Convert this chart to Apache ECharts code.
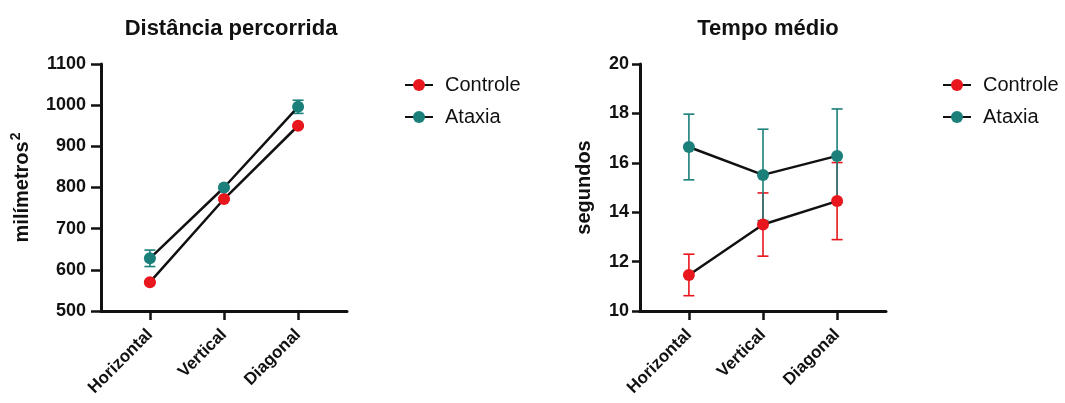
<!DOCTYPE html>
<html>
<head>
<meta charset="utf-8">
<script src="https://cdn.jsdelivr.net/npm/echarts@6/dist/echarts.min.js"></script>
<style>
html,body{margin:0;padding:0;background:#fff;}
#chart{width:1065px;height:403px;}
</style>
</head>
<body>
<div id="chart"></div>
<script>
const categories = ['Horizontal', 'Vertical', 'Diagonal'];
const seriesNames = ['Controle', 'Ataxia'];

const distControle = [570, 772, 950];
const distControleErr = [3, 3, 3];
const distAtaxia = [628, 800, 996];
const distAtaxiaErr = [20, 3, 16];

const tempoControle = [11.46, 13.5, 14.45];
const tempoControleErr = [0.84, 1.28, 1.56];
const tempoAtaxia = [16.64, 15.51, 16.28];
const tempoAtaxiaErr = [1.33, 1.85, 1.9];

const RED = '#e8161d';
const TEAL = '#1b7f7a';
const FONT = '"Liberation Sans", Arial, sans-serif';

const toPts = (vals, errs) => vals.map((v, i) => [i, v, errs[i]]);

function errRender(color) {
  return function (params, api) {
    const x = api.value(0), y = api.value(1), e = api.value(2);
    const top = api.coord([x, y + e]);
    const bot = api.coord([x, y - e]);
    const cap = 5.5;
    const style = { stroke: color, lineWidth: 1.6 };
    return {
      type: 'group',
      children: [
        { type: 'line', shape: { x1: top[0], y1: top[1], x2: bot[0], y2: bot[1] }, style },
        { type: 'line', shape: { x1: top[0] - cap, y1: top[1], x2: top[0] + cap, y2: top[1] }, style },
        { type: 'line', shape: { x1: bot[0] - cap, y1: bot[1], x2: bot[0] + cap, y2: bot[1] }, style }
      ]
    };
  };
}

function xAxisCfg(gridIndex) {
  return {
    type: 'value', gridIndex, min: -0.66, max: 2.66,
    axisLine: { show: true, onZero: false, lineStyle: { color: '#111', width: 3 } },
    axisTick: { show: true, customValues: [0, 1, 2], length: 9, lineStyle: { color: '#111', width: 2.5 } },
    axisLabel: {
      customValues: [0, 1, 2], rotate: 45, margin: 21,
      formatter: v => categories[Math.round(v)],
      fontSize: 17, fontWeight: 'bold', color: '#111', fontFamily: FONT
    },
    splitLine: { show: false }
  };
}

function yAxisCfg(gridIndex, min, max, interval, name, nameGap, tickLen, margin) {
  return {
    type: 'value', gridIndex, min, max, interval,
    name, nameLocation: 'middle', nameGap, nameRotate: 90,
    nameTextStyle: {
      fontSize: 20, fontWeight: 'bold', color: '#111', fontFamily: FONT,
      rich: { sup: { fontSize: 14, fontWeight: 'bold', color: '#111', fontFamily: FONT, verticalAlign: 'top', padding: [0, 0, 12, 1] } }
    },
    axisLine: { show: true, onZero: false, lineStyle: { color: '#111', width: 3 } },
    axisTick: { show: true, length: tickLen, lineStyle: { color: '#111', width: 2.5 } },
    axisLabel: { fontSize: 18, fontWeight: 'bold', color: '#111', fontFamily: FONT, margin, formatter: v => String(v) },
    splitLine: { show: false }
  };
}

function lineSeries(name, vals, color, axisIdx) {
  return {
    name, type: 'line', xAxisIndex: axisIdx, yAxisIndex: axisIdx,
    data: vals.map((v, i) => [i, v]),
    symbol: 'circle', symbolSize: 12,
    itemStyle: { color },
    lineStyle: { color: '#111', width: 2.5 },
    z: 3, animation: false
  };
}

function errSeries(name, vals, errs, color, axisIdx) {
  return {
    name: name + ' (erro)', type: 'custom', xAxisIndex: axisIdx, yAxisIndex: axisIdx,
    data: toPts(vals, errs), renderItem: errRender(color),
    encode: { x: 0, y: 1 }, z: 1, animation: false, silent: true
  };
}

function legendCfg(left) {
  return {
    data: seriesNames, left, top: 70, orient: 'vertical',
    itemWidth: 28, itemHeight: 15, itemGap: 12,
    textStyle: { fontSize: 20, color: '#111', fontFamily: FONT, padding: [0, 0, 0, 7] }
  };
}

const chart = echarts.init(document.getElementById('chart'), null, { renderer: 'canvas' });
chart.setOption({
  animation: false,
  backgroundColor: '#fff',
  title: [
    { text: 'Distância percorrida', left: 226, top: 13, textAlign: 'center',
      textStyle: { fontSize: 22, fontWeight: 'bold', color: '#111', fontFamily: FONT } },
    { text: 'Tempo médio', left: 763, top: 13, textAlign: 'center',
      textStyle: { fontSize: 22, fontWeight: 'bold', color: '#111', fontFamily: FONT } }
  ],
  legend: [legendCfg(399), legendCfg(937)],
  grid: [
    { left: 101, top: 64, width: 246, height: 247 },
    { left: 640, top: 64, width: 246, height: 247 }
  ],
  xAxis: [xAxisCfg(0), xAxisCfg(1)],
  yAxis: [
    yAxisCfg(0, 500, 1100, 100, 'milímetros{sup|2}', 66, 10, 15),
    yAxisCfg(1, 10, 20, 2, 'segundos', 46, 8, 11)
  ],
  series: [
    lineSeries('Controle', distControle, RED, 0),
    lineSeries('Ataxia', distAtaxia, TEAL, 0),
    lineSeries('Controle', tempoControle, RED, 1),
    lineSeries('Ataxia', tempoAtaxia, TEAL, 1),
    errSeries('Controle', distControle, distControleErr, RED, 0),
    errSeries('Ataxia', distAtaxia, distAtaxiaErr, TEAL, 0),
    errSeries('Controle', tempoControle, tempoControleErr, RED, 1),
    errSeries('Ataxia', tempoAtaxia, tempoAtaxiaErr, TEAL, 1)
  ]
});
</script>
</body>
</html>
